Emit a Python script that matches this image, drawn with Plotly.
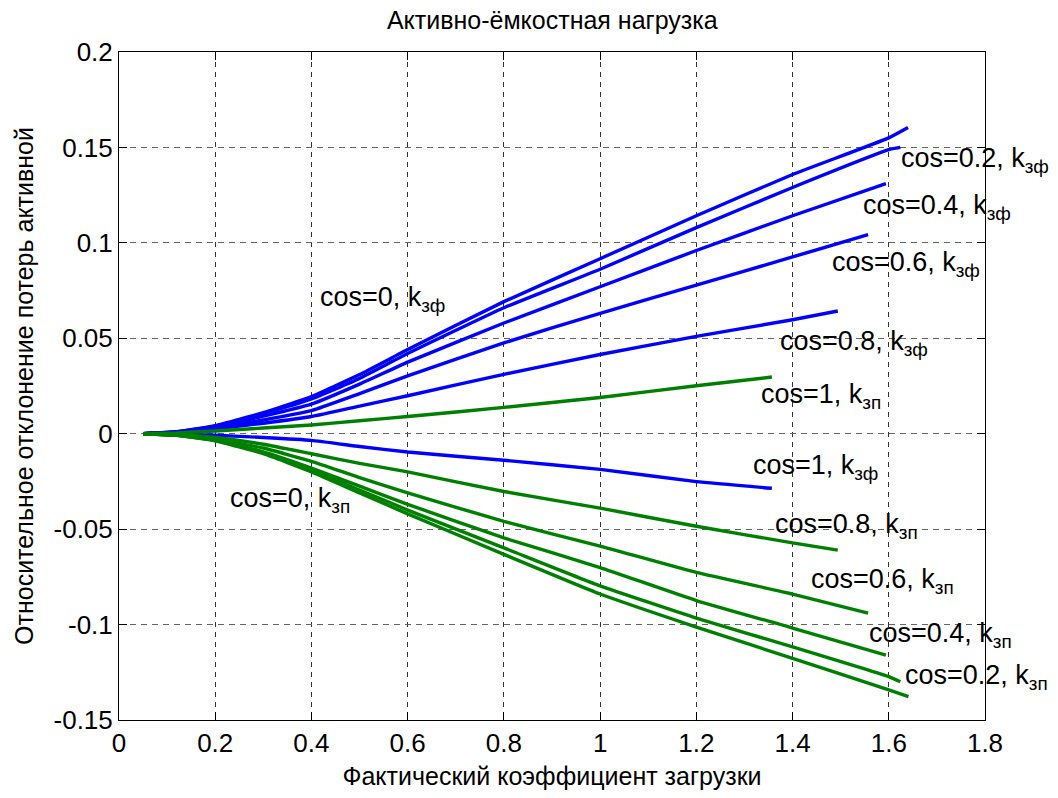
import plotly.graph_objects as go

# ---------------- data ----------------
title_text = "Активно-ёмкостная нагрузка"
x_title = "Фактический коэффициент загрузки"
y_title = "Относительное отклонение потерь активной"

x_ticks = [0, 0.2, 0.4, 0.6, 0.8, 1.0, 1.2, 1.4, 1.6, 1.8]
x_tick_labels = ["0", "0.2", "0.4", "0.6", "0.8", "1", "1.2", "1.4", "1.6", "1.8"]
y_ticks = [-0.15, -0.1, -0.05, 0, 0.05, 0.1, 0.15, 0.2]
y_tick_labels = ["-0.15", "-0.1", "-0.05", "0", "0.05", "0.1", "0.15", "0.2"]

# blue curves (k_зф)
x_cos0_zf = [0.05, 0.12, 0.2, 0.3, 0.4, 0.5, 0.6, 0.8, 1.0, 1.2, 1.4, 1.6, 1.64]
y_cos0_zf = [0, 0.001, 0.0042, 0.011, 0.0195, 0.031, 0.0441, 0.0692, 0.0917, 0.1142, 0.1358, 0.155, 0.1604]
x_cos02_zf = [0.05, 0.12, 0.2, 0.3, 0.4, 0.5, 0.6, 0.8, 1.0, 1.2, 1.4, 1.6, 1.624]
y_cos02_zf = [0, 0.001, 0.004, 0.0105, 0.0182, 0.029, 0.042, 0.066, 0.0862, 0.108, 0.129, 0.1488, 0.150]
x_cos04_zf = [0.05, 0.12, 0.2, 0.3, 0.4, 0.5, 0.6, 0.8, 1.0, 1.2, 1.4, 1.594]
y_cos04_zf = [0, 0.0009, 0.0036, 0.0092, 0.0155, 0.026, 0.0375, 0.058, 0.077, 0.096, 0.1142, 0.131]
x_cos06_zf = [0.05, 0.12, 0.2, 0.3, 0.4, 0.5, 0.6, 0.8, 1.0, 1.2, 1.4, 1.557]
y_cos06_zf = [0, 0.0008, 0.003, 0.0072, 0.0121, 0.021, 0.0303, 0.0476, 0.0631, 0.0778, 0.0926, 0.1043]
x_cos08_zf = [0.05, 0.12, 0.2, 0.3, 0.4, 0.5, 0.6, 0.8, 1.0, 1.2, 1.4, 1.494]
y_cos08_zf = [0, 0.0006, 0.0025, 0.0055, 0.009, 0.0145, 0.0199, 0.0311, 0.0415, 0.051, 0.0597, 0.0643]
x_cos1_zf = [0.05, 0.12, 0.2, 0.3, 0.4, 0.5, 0.6, 0.8, 1.0, 1.2, 1.357]
y_cos1_zf = [0, -0.0002, -0.0008, -0.002, -0.0035, -0.0067, -0.0096, -0.0139, -0.0187, -0.0251, -0.0286]

# green curves (k_зп)
x_cos1_zp = [0.05, 0.12, 0.2, 0.3, 0.4, 0.5, 0.6, 0.8, 1.0, 1.2, 1.357]
y_cos1_zp = [0, 0.0004, 0.0014, 0.003, 0.0046, 0.0068, 0.009, 0.0138, 0.019, 0.0251, 0.0297]
x_cos08_zp = [0.05, 0.12, 0.2, 0.3, 0.4, 0.5, 0.6, 0.8, 1.0, 1.2, 1.4, 1.494]
y_cos08_zp = [0, -0.0005, -0.002, -0.0055, -0.0105, -0.0155, -0.020, -0.0303, -0.039, -0.0485, -0.0572, -0.061]
x_cos06_zp = [0.05, 0.12, 0.2, 0.3, 0.4, 0.5, 0.6, 0.8, 1.0, 1.2, 1.4, 1.557]
y_cos06_zp = [0, -0.0007, -0.0028, -0.0075, -0.0145, -0.023, -0.031, -0.0459, -0.0589, -0.0727, -0.084, -0.094]
x_cos04_zp = [0.05, 0.12, 0.2, 0.3, 0.4, 0.5, 0.6, 0.8, 1.0, 1.2, 1.4, 1.594]
y_cos04_zp = [0, -0.0008, -0.0032, -0.0095, -0.018, -0.0275, -0.037, -0.0546, -0.0701, -0.0874, -0.1018, -0.116]
x_cos02_zp = [0.05, 0.12, 0.2, 0.3, 0.4, 0.5, 0.6, 0.8, 1.0, 1.2, 1.4, 1.6, 1.624]
y_cos02_zp = [0, -0.0008, -0.0035, -0.0100, -0.019, -0.0295, -0.040, -0.0598, -0.0797, -0.0966, -0.1117, -0.1273, -0.130]
x_cos0_zp = [0.05, 0.12, 0.2, 0.3, 0.4, 0.5, 0.6, 0.8, 1.0, 1.2, 1.4, 1.6, 1.641]
y_cos0_zp = [0, -0.0009, -0.0037, -0.0105, -0.020, -0.031, -0.042, -0.0632, -0.084, -0.1013, -0.1177, -0.1342, -0.1377]

# labels: text, x, y
label_texts = ["cos=0, k<sub>зф</sub>", "cos=0.2, k<sub>зф</sub>", "cos=0.4, k<sub>зф</sub>",
               "cos=0.6, k<sub>зф</sub>", "cos=0.8, k<sub>зф</sub>", "cos=1, k<sub>зп</sub>",
               "cos=1, k<sub>зф</sub>", "cos=0.8, k<sub>зп</sub>", "cos=0.6, k<sub>зп</sub>",
               "cos=0.4, k<sub>зп</sub>", "cos=0.2, k<sub>зп</sub>", "cos=0, k<sub>зп</sub>"]
label_x = [0.414, 1.622, 1.543, 1.477, 1.369, 1.331, 1.314, 1.359, 1.434, 1.554, 1.629, 0.227]
label_y = [0.0704, 0.1436, 0.1186, 0.0891, 0.0476, 0.0199, -0.0173, -0.0485, -0.0771, -0.1056, -0.1273, -0.0347]

BLUE = "#0000FF"
GREEN = "#008000"
FONT = "Liberation Sans, Arial, sans-serif"

series = [
    (x_cos0_zf, y_cos0_zf, BLUE), (x_cos02_zf, y_cos02_zf, BLUE), (x_cos04_zf, y_cos04_zf, BLUE),
    (x_cos06_zf, y_cos06_zf, BLUE), (x_cos08_zf, y_cos08_zf, BLUE), (x_cos1_zf, y_cos1_zf, BLUE),
    (x_cos1_zp, y_cos1_zp, GREEN), (x_cos08_zp, y_cos08_zp, GREEN), (x_cos06_zp, y_cos06_zp, GREEN),
    (x_cos04_zp, y_cos04_zp, GREEN), (x_cos02_zp, y_cos02_zp, GREEN), (x_cos0_zp, y_cos0_zp, GREEN),
]

fig = go.Figure()
for xs, ys, c in series:
    fig.add_trace(go.Scatter(x=xs, y=ys, mode="lines",
                             line=dict(color=c, width=3.4, shape="spline", smoothing=0.4),
                             showlegend=False, hoverinfo="skip"))

for t, lx, ly in zip(label_texts, label_x, label_y):
    fig.add_annotation(x=lx, y=ly, text=t, showarrow=False, xanchor="left", yanchor="middle",
                       font=dict(family=FONT, size=27, color="black"))

fig.update_layout(
    width=1058, height=798,
    margin=dict(l=119, r=73, t=52, b=73),
    paper_bgcolor="white", plot_bgcolor="white",
    font=dict(family=FONT, size=26, color="black"),
    title=dict(text=title_text, x=0.522, xanchor="center", y=0.975, yanchor="middle",
               font=dict(family=FONT, size=25)),
    showlegend=False,
)
fig.update_xaxes(
    range=[0, 1.8], tickvals=x_ticks, ticktext=x_tick_labels,
    showline=True, linecolor="black", linewidth=1, mirror="ticks",
    ticks="inside", ticklen=8, tickcolor="black",
    showgrid=True, gridcolor="#333333", gridwidth=1, griddash="5px,5px",
    zeroline=False,
    title=dict(text=x_title, font=dict(family=FONT, size=25), standoff=10),
    tickfont=dict(family=FONT, size=26),
)
fig.update_yaxes(
    range=[-0.15, 0.2], tickvals=y_ticks, ticktext=y_tick_labels,
    showline=True, linecolor="black", linewidth=1, mirror="ticks",
    ticks="inside", ticklen=8, tickcolor="black",
    showgrid=True, gridcolor="#666666", gridwidth=1.3, griddash="6px,5px",
    zeroline=False,
    title=dict(text=y_title, font=dict(family=FONT, size=25), standoff=12),
    tickfont=dict(family=FONT, size=26),
)

fig.write_html("out.html")
